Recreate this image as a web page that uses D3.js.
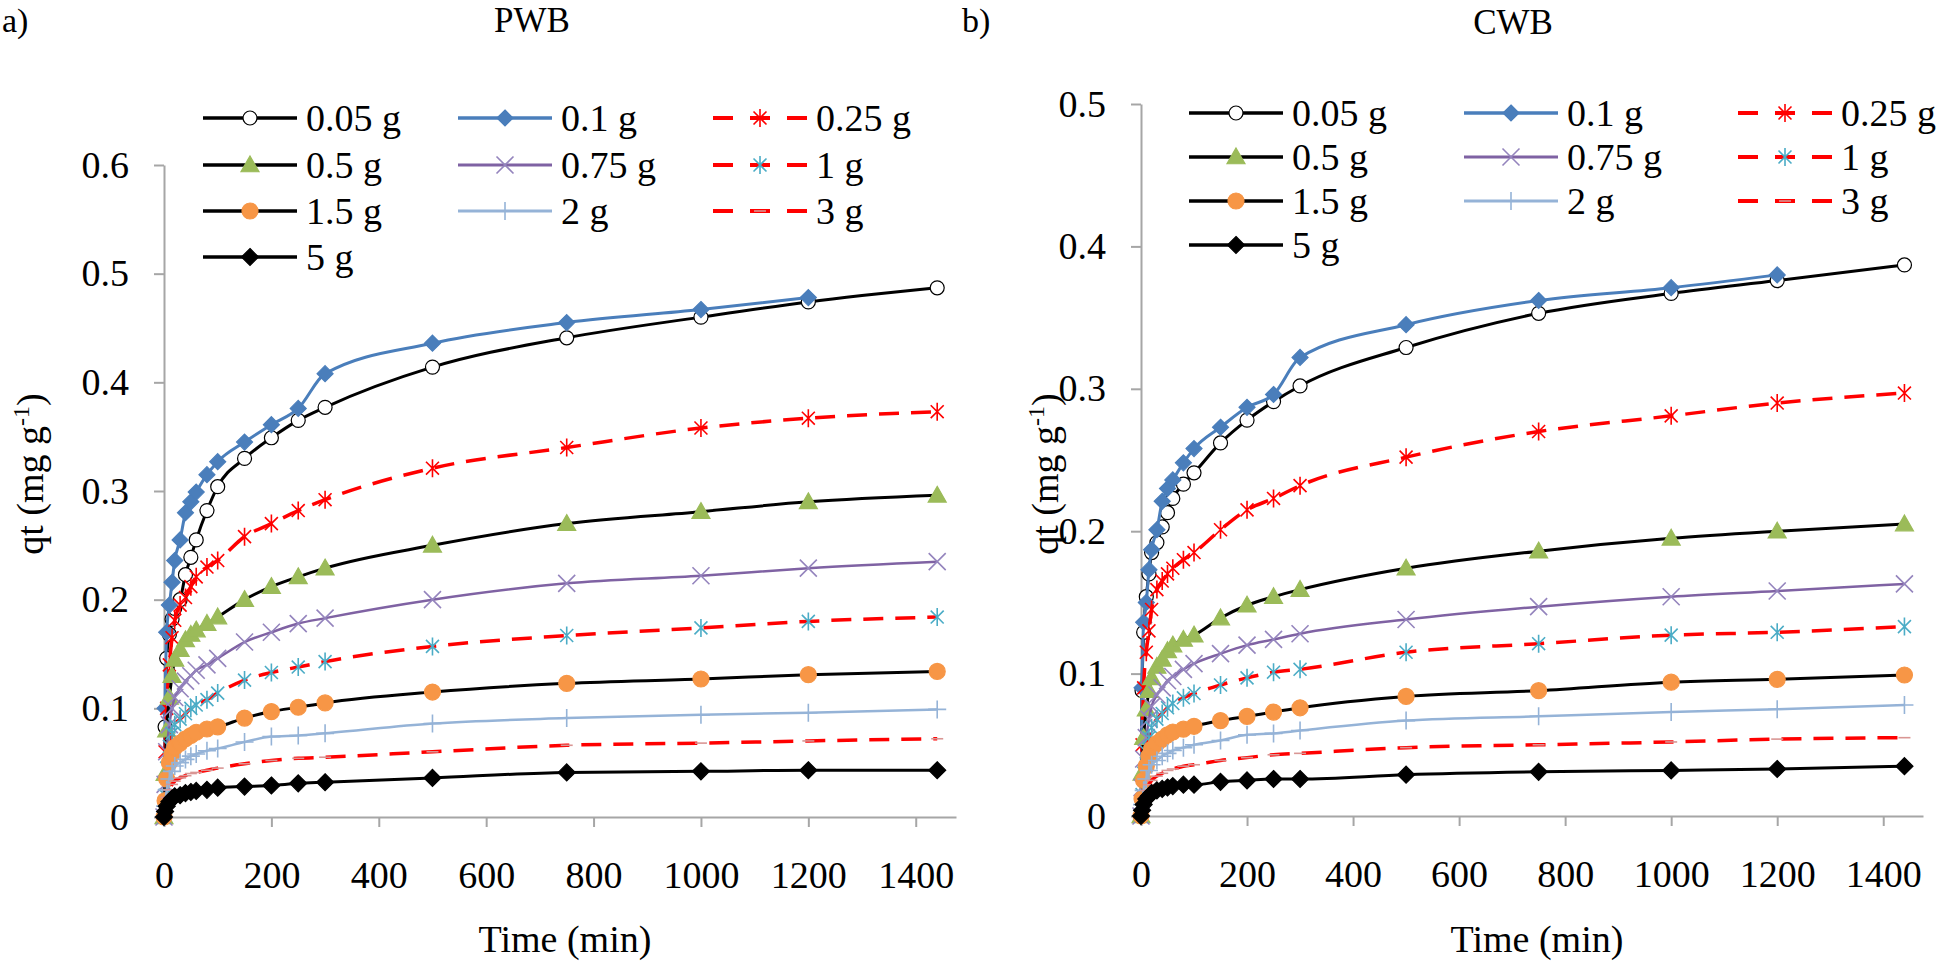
<!DOCTYPE html>
<html>
<head>
<meta charset="utf-8">
<script src="https://cdn.jsdelivr.net/npm/d3@7"></script>
<style>
  body { margin: 0; background: #fff; }
  svg text { font-family: "Liberation Serif", "Times New Roman", serif; fill: #000; }
</style>
</head>
<body>
<svg id="chart"></svg>
<script>
// sampling times (min)
const times = [0, 2, 5, 10, 15, 20, 30, 40, 50, 60, 80, 100, 150, 200, 250, 300, 500, 750, 1000, 1200, 1440];
const doseLabels = ['0.05 g', '0.1 g', '0.25 g', '0.5 g', '0.75 g', '1 g', '1.5 g', '2 g', '3 g', '5 g'];
const xTicks = [0, 200, 400, 600, 800, 1000, 1200, 1400];
const pwbTicks = [0, 0.1, 0.2, 0.3, 0.4, 0.5, 0.6];
const cwbTicks = [0, 0.1, 0.2, 0.3, 0.4, 0.5];

// PWB qt values (mg/g); 0.1 g stops at 1200 min
const pwb005 = [0, 0.083, 0.146, 0.168, 0.182, 0.192, 0.200, 0.223, 0.239, 0.255, 0.282, 0.304, 0.330, 0.349, 0.365, 0.377, 0.414, 0.441, 0.460, 0.474, 0.487];
const pwb01  = [0, 0.100, 0.170, 0.195, 0.216, 0.236, 0.255, 0.280, 0.290, 0.299, 0.315, 0.327, 0.345, 0.361, 0.376, 0.408, 0.436, 0.455, 0.467, 0.478];
const pwb025 = [0, 0.060, 0.100, 0.140, 0.165, 0.181, 0.195, 0.202, 0.212, 0.221, 0.230, 0.236, 0.258, 0.270, 0.282, 0.292, 0.321, 0.340, 0.358, 0.367, 0.373];
const pwb05  = [0, 0.040, 0.080, 0.110, 0.130, 0.145, 0.154, 0.163, 0.168, 0.172, 0.178, 0.184, 0.200, 0.212, 0.221, 0.229, 0.250, 0.270, 0.281, 0.290, 0.296];
const pwb075 = [0, 0.030, 0.060, 0.085, 0.100, 0.110, 0.118, 0.125, 0.130, 0.135, 0.140, 0.146, 0.161, 0.170, 0.178, 0.183, 0.200, 0.215, 0.222, 0.229, 0.235];
const pwb1   = [0, 0.020, 0.045, 0.065, 0.077, 0.085, 0.090, 0.095, 0.100, 0.103, 0.108, 0.114, 0.126, 0.133, 0.138, 0.143, 0.157, 0.167, 0.174, 0.180, 0.184];
const pwb15  = [0, 0.015, 0.035, 0.050, 0.058, 0.064, 0.068, 0.072, 0.075, 0.078, 0.081, 0.083, 0.091, 0.097, 0.101, 0.105, 0.115, 0.123, 0.127, 0.131, 0.134];
const pwb2   = [0, 0.010, 0.025, 0.035, 0.042, 0.047, 0.050, 0.053, 0.056, 0.058, 0.061, 0.063, 0.069, 0.074, 0.075, 0.077, 0.086, 0.091, 0.094, 0.096, 0.099];
const pwb3   = [0, 0.008, 0.018, 0.025, 0.030, 0.033, 0.036, 0.038, 0.040, 0.041, 0.043, 0.045, 0.049, 0.052, 0.054, 0.055, 0.060, 0.066, 0.068, 0.070, 0.072];
const pwb5   = [0, 0.005, 0.010, 0.014, 0.017, 0.019, 0.020, 0.022, 0.023, 0.024, 0.025, 0.027, 0.028, 0.029, 0.031, 0.032, 0.036, 0.041, 0.042, 0.043, 0.043];

// CWB qt values (mg/g)
const cwb005 = [0, 0.088, 0.129, 0.154, 0.170, 0.185, 0.192, 0.203, 0.213, 0.223, 0.233, 0.241, 0.262, 0.278, 0.291, 0.302, 0.329, 0.353, 0.367, 0.376, 0.387];
const cwb01  = [0, 0.090, 0.136, 0.150, 0.173, 0.187, 0.201, 0.221, 0.230, 0.236, 0.248, 0.258, 0.273, 0.287, 0.296, 0.322, 0.345, 0.362, 0.371, 0.380];
const cwb025 = [0, 0.050, 0.090, 0.115, 0.130, 0.145, 0.159, 0.165, 0.170, 0.174, 0.180, 0.185, 0.201, 0.215, 0.223, 0.232, 0.252, 0.270, 0.281, 0.290, 0.297];
const cwb05  = [0, 0.030, 0.055, 0.075, 0.088, 0.097, 0.105, 0.110, 0.116, 0.120, 0.124, 0.127, 0.139, 0.148, 0.154, 0.159, 0.174, 0.186, 0.195, 0.200, 0.205];
const cwb075 = [0, 0.020, 0.040, 0.055, 0.068, 0.077, 0.085, 0.090, 0.095, 0.098, 0.103, 0.107, 0.114, 0.120, 0.124, 0.128, 0.138, 0.147, 0.154, 0.158, 0.163];
const cwb1   = [0, 0.015, 0.030, 0.045, 0.055, 0.062, 0.068, 0.072, 0.076, 0.079, 0.083, 0.086, 0.092, 0.097, 0.101, 0.103, 0.115, 0.121, 0.127, 0.129, 0.133];
const cwb15  = [0, 0.012, 0.025, 0.035, 0.042, 0.047, 0.051, 0.054, 0.057, 0.059, 0.061, 0.063, 0.067, 0.070, 0.073, 0.076, 0.084, 0.088, 0.094, 0.096, 0.099];
const cwb2   = [0, 0.008, 0.018, 0.026, 0.032, 0.036, 0.039, 0.042, 0.044, 0.046, 0.048, 0.050, 0.053, 0.057, 0.058, 0.060, 0.067, 0.070, 0.073, 0.075, 0.078];
const cwb3   = [0, 0.005, 0.012, 0.018, 0.022, 0.025, 0.028, 0.030, 0.032, 0.033, 0.035, 0.036, 0.039, 0.041, 0.043, 0.044, 0.048, 0.050, 0.052, 0.054, 0.055];
const cwb5   = [0, 0.004, 0.008, 0.012, 0.014, 0.016, 0.018, 0.019, 0.020, 0.021, 0.022, 0.022, 0.024, 0.025, 0.026, 0.026, 0.029, 0.031, 0.032, 0.033, 0.035];

const SERIF = '"Liberation Serif", "Times New Roman", serif';
const dashed = '20,12';
const styles = [
  { line: '#000', width: 3, marker: 'circle', fill: '#fff', stroke: '#000', r: 7 },
  { line: '#4a7ebb', width: 3, marker: 'diamond', fill: '#4a7ebb', stroke: '#4a7ebb', r: 8 },
  { line: '#ff0000', width: 3.5, dash: dashed, marker: 'star', fill: 'none', stroke: '#ff0000', r: 9 },
  { line: '#000', width: 3, marker: 'triangle', fill: '#9bbb59', stroke: '#9bbb59', r: 9 },
  { line: '#7f62a3', width: 2.5, marker: 'cross', fill: 'none', stroke: '#9484bd', r: 8.5 },
  { line: '#ff0000', width: 3.5, dash: dashed, marker: 'star', fill: 'none', stroke: '#4bacc6', r: 9 },
  { line: '#000', width: 3, marker: 'circle', fill: '#f79646', stroke: '#f79646', r: 8 },
  { line: '#95b3d7', width: 2.5, marker: 'plus', fill: 'none', stroke: '#95b3d7', r: 9 },
  { line: '#ff0000', width: 3.5, dash: dashed, marker: 'dash', fill: 'none', stroke: '#d99694', r: 6 },
  { line: '#000', width: 3, marker: 'diamond', fill: '#000', stroke: '#000', r: 8.5 }
];

function markerPath(type, r) {
  switch (type) {
    case 'circle': return `M${-r},0A${r},${r} 0 1,0 ${r},0A${r},${r} 0 1,0 ${-r},0Z`;
    case 'diamond': return `M0,${-r}L${r},0L0,${r}L${-r},0Z`;
    case 'triangle': return `M0,${-r}L${r},${r * 0.75}L${-r},${r * 0.75}Z`;
    case 'star': { const k = r * 0.72; return `M0,${-r}V${r}M${-k},${-k}L${k},${k}M${-k},${k}L${k},${-k}`; }
    case 'cross': return `M${-r},${-r}L${r},${r}M${-r},${r}L${r},${-r}`;
    case 'plus': return `M${-r},0H${r}M0,${-r}V${r}`;
    case 'dash': return `M${-r},0H${r}`;
  }
}

const svg = d3.select('#chart').attr('width', 1946).attr('height', 971).attr('font-family', SERIF);

const panels = [
  {
    tag: 'a)', tagX: 2, title: 'PWB', titleX: 532, titleY: 32,
    data: [pwb005, pwb01, pwb025, pwb05, pwb075, pwb1, pwb15, pwb2, pwb3, pwb5],
    yTicks: pwbTicks, yMax: 0.6, x0: 164, x1: 956, y0: 817, y1: 165,
    ylabelX: 43, xlabelX: 565,
    legendCols: [203, 458, 713], legendRows: [118, 165, 211, 257]
  },
  {
    tag: 'b)', tagX: 962, title: 'CWB', titleX: 1513, titleY: 34,
    data: [cwb005, cwb01, cwb025, cwb05, cwb075, cwb1, cwb15, cwb2, cwb3, cwb5],
    yTicks: cwbTicks, yMax: 0.5, x0: 1141, x1: 1923, y0: 816, y1: 104,
    ylabelX: 1058, xlabelX: 1537,
    legendCols: [1189, 1464, 1738], legendRows: [113, 157, 201, 245]
  }
];

panels.forEach(p => {
  const x = d3.scaleLinear().domain([0, 1475]).range([p.x0, p.x1]);
  const y = d3.scaleLinear().domain([0, p.yMax]).range([p.y0, p.y1]);

  svg.append('text').attr('x', p.tagX).attr('y', 32).style('font-size', '34px').text(p.tag);
  svg.append('text').attr('x', p.titleX).attr('y', p.titleY).attr('text-anchor', 'middle')
    .style('font-size', '35px').text(p.title);

  const gx = svg.append('g').attr('transform', `translate(0,${p.y0})`)
    .call(d3.axisBottom(x).tickValues(xTicks).tickSize(10).tickSizeOuter(0).tickPadding(34).tickFormat(d3.format('d')));
  const gy = svg.append('g').attr('transform', `translate(${p.x0},0)`)
    .call(d3.axisLeft(y).tickValues(p.yTicks).tickSize(10).tickSizeOuter(0).tickPadding(25).tickFormat(d3.format('~g')));
  [gx, gy].forEach(g => {
    g.attr('font-family', SERIF);
    g.select('.domain').attr('stroke', '#a6a6a6').attr('stroke-width', 2);
    g.selectAll('.tick line').attr('stroke', '#a6a6a6').attr('stroke-width', 2);
    g.selectAll('.tick text').attr('font-family', SERIF).style('font-size', '38px').attr('fill', '#000');
  });

  svg.append('text').attr('x', p.xlabelX).attr('y', 952).attr('text-anchor', 'middle')
    .style('font-size', '38px').text('Time (min)');
  const yl = svg.append('text').attr('transform', `translate(${p.ylabelX},474) rotate(-90)`)
    .attr('text-anchor', 'middle').style('font-size', '38px');
  yl.append('tspan').text('qt (mg g');
  yl.append('tspan').attr('dy', -14).style('font-size', '24px').text('-1');
  yl.append('tspan').attr('dy', 14).text(')');

  const line = d3.line().x(d => x(d[0])).y(d => y(d[1])).curve(d3.curveMonotoneX);

  p.data.forEach((vals, i) => {
    const s = styles[i];
    const pts = vals.map((v, j) => [times[j], v]);
    svg.append('path').datum(pts).attr('d', line).attr('fill', 'none')
      .attr('stroke', s.line).attr('stroke-width', s.width)
      .attr('stroke-dasharray', s.dash || null);
    svg.append('g').selectAll('path').data(pts).join('path')
      .attr('transform', d => `translate(${x(d[0])},${y(d[1])})`)
      .attr('d', markerPath(s.marker, s.r))
      .attr('fill', s.fill).attr('stroke', s.stroke).attr('stroke-width', s.fill === 'none' ? 1.6 : 1.2);
  });

  // legend, 3 columns filled row by row
  doseLabels.forEach((lab, i) => {
    const s = styles[i];
    const lx = p.legendCols[i % 3], ly = p.legendRows[Math.floor(i / 3)];
    const g = svg.append('g').attr('transform', `translate(${lx},${ly})`);
    g.append('line').attr('x1', 0).attr('x2', 94).attr('stroke', s.line)
      .attr('stroke-width', s.width + 0.5).attr('stroke-dasharray', s.dash ? '20,17,20,17,20' : null);
    g.append('path').attr('transform', 'translate(47,0)').attr('d', markerPath(s.marker, s.r))
      .attr('fill', s.fill).attr('stroke', s.stroke).attr('stroke-width', s.fill === 'none' ? 1.6 : 1.2);
    g.append('text').attr('x', 103).attr('dy', '0.35em').style('font-size', '38px').text(lab);
  });
});
</script>
</body>
</html>
